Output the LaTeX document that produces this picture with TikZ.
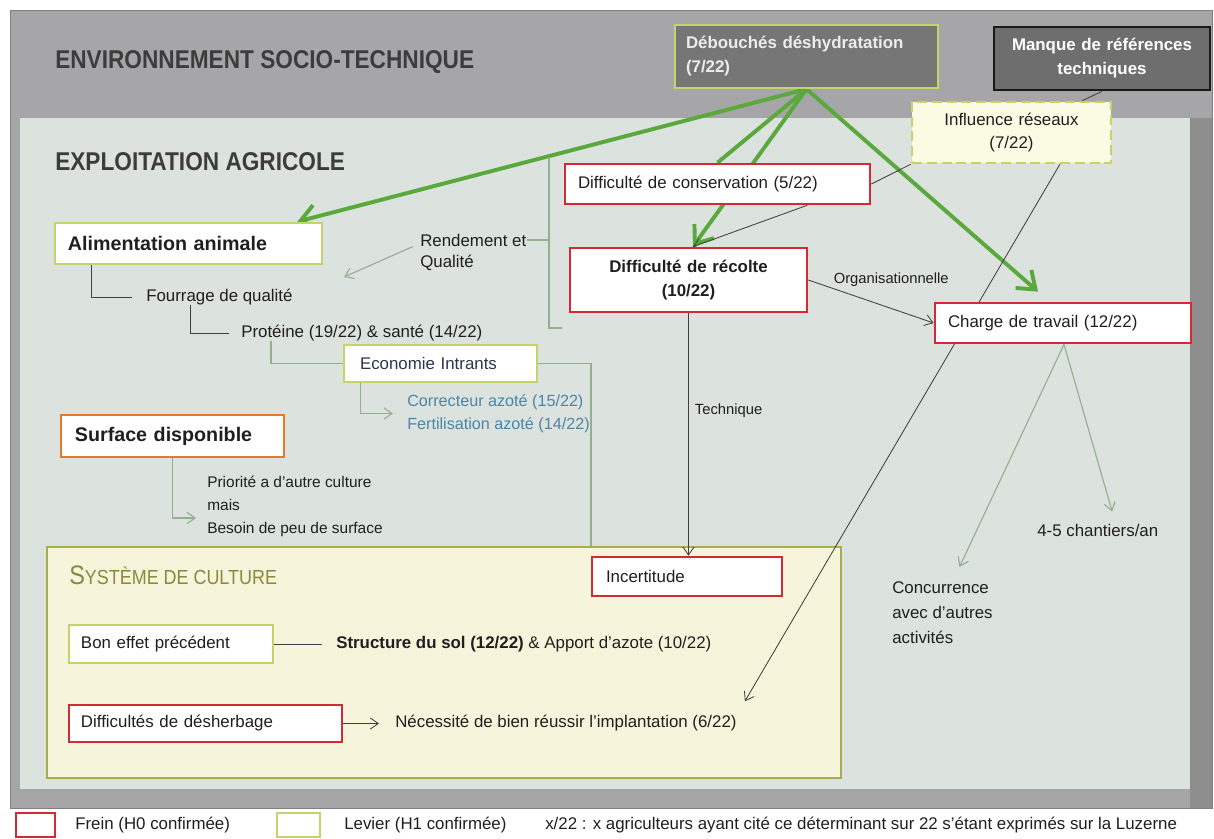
\documentclass[tikz,border=0pt]{standalone}
\usepackage{fontspec}
\setmainfont{Liberation Sans}
\newfontfamily\narrowfont[FakeStretch=0.88]{Liberation Sans}
\usetikzlibrary{arrows.meta,positioning,backgrounds}
\definecolor{framegray}{HTML}{A6A6A8}
\definecolor{shadegray}{HTML}{8E8E8E}
\definecolor{innerbg}{HTML}{DCE3DF}
\definecolor{sysbg}{HTML}{F6F5DC}
\definecolor{sysline}{HTML}{A9AE4C}
\definecolor{freinred}{HTML}{D42A35}
\definecolor{levierline}{HTML}{C5D36A}
\definecolor{orangeline}{HTML}{E8782E}
\definecolor{leaf}{HTML}{5BA83C}
\definecolor{paleleaf}{HTML}{93B08E}
\definecolor{debfill}{HTML}{767676}
\definecolor{manquefill}{HTML}{6E6E6E}
\definecolor{inflfill}{HTML}{FBFBE4}
\definecolor{headgray}{HTML}{3C3C3C}
\definecolor{olivetxt}{HTML}{8A8A3C}
\definecolor{azoteblue}{HTML}{4A86A6}
\definecolor{ecotxt}{HTML}{2C3550}
\tikzset{
  cadre/.style={draw,rectangle,fill=white,inner ysep=0pt,align=left,text=black!88,font=\fontsize{12}{17}\selectfont},
  frein/.style={cadre,draw=freinred,line width=1.9pt},
  levier/.style={cadre,draw=levierline,line width=1.9pt},
  txt/.style={inner sep=0pt,align=left,text=black!88,font=\fontsize{12}{16.4}\selectfont},
  lbl/.style={txt,font=\fontsize{10.5}{13}\selectfont},
  titre/.style={anchor=west,inner sep=0pt,text=headgray,font=\narrowfont\bfseries\fontsize{18.3}{22}\selectfont},
  darkline/.style={draw=black!75,line width=0.6pt},
  paleline/.style={draw=paleleaf,line width=0.8pt},
  bigarrow/.style={draw=leaf,line width=2.8pt,-{Straight Barb[length=4mm,width=6mm]}}
}

\begin{document}
\begin{tikzpicture}[x=0.25mm,y=-0.25mm,>={Straight Barb[length=2mm,width=2.8mm]}]
\useasboundingbox (0,0) rectangle (1214,838);
% titres
\node (envt) [titre] at (55,62) {ENVIRONNEMENT SOCIO-TECHNIQUE};
\node (expt) [titre] at (55,162) {EXPLOITATION AGRICOLE};
\node (systitle) [anchor=west,inner sep=0pt,text=olivetxt,font=\narrowfont] at (69,575) {\fontsize{19}{20}\selectfont S\fontsize{14.5}{20}\selectfont YSTÈME DE CULTURE};
%
\node (deb) [cadre,fill=debfill,draw=levierline,line width=1.5pt,text=white!93!black,font=\bfseries\fontsize{12}{17}\selectfont,inner xsep=2.75mm,text width=60.25mm,minimum height=15.75mm] at (806.5,56.5) {Débouchés déshydratation\\(7/22)};
\node (manque) [cadre,fill=manquefill,draw=black!90,line width=2pt,text=white,font=\bfseries\fontsize{12}{17}\selectfont,align=center,inner xsep=2mm,text width=50mm,minimum height=15.75mm] at (1102,58.5) {Manque de références\\techniques};
\node (infl) [cadre,fill=inflfill,draw=levierline,line width=1.8pt,dash pattern=on 2.5mm off 1.2mm,align=center,inner xsep=2mm,text width=45.75mm,minimum height=15.25mm] at (1011.5,132.5) {Influence réseaux\\(7/22)};
\node (cons) [frein,inner xsep=3.25mm,text width=69.75mm,minimum height=10mm] at (717.5,184) {Difficulté de conservation (5/22)};
\node (rec) [frein,font=\bfseries\fontsize{12}{17}\selectfont,align=center,inner xsep=2mm,text width=55.25mm,minimum height=16mm] at (688.5,280) {Difficulté de récolte\\(10/22)};
\node (charge) [frein,inner xsep=3.25mm,text width=57.5mm,minimum height=10mm] at (1063,323) {Charge de travail (12/22)};
\node (inc) [frein,inner xsep=3.5mm,text width=40.5mm,minimum height=9.75mm] at (687,576.5) {Incertitude};
\node (alim) [levier,font=\bfseries\fontsize{14}{17}\selectfont,inner xsep=3.25mm,text width=60.25mm,minimum height=10.25mm] at (188.5,243.5) {Alimentation animale};
\node (eco) [levier,text=ecotxt,inner xsep=4mm,text width=40.25mm,minimum height=9.25mm] at (440.5,363.5) {Economie Intrants};
\node (surf) [cadre,draw=orangeline,line width=1.8pt,font=\bfseries\fontsize{14}{17}\selectfont,inner xsep=3.5mm,text width=48.75mm,minimum height=10.5mm] at (172.5,436) {Surface disponible};
\node (bon) [levier,inner xsep=3mm,text width=45mm,minimum height=9.5mm] at (171,644) {Bon effet précédent};
\node (desh) [frein,inner xsep=3mm,text width=62.25mm,minimum height=9.25mm] at (205.5,723.5) {Difficultés de désherbage};
%
\node (rend) [txt,anchor=west] at (420,240) {Rendement et};
\node (qual) [txt,anchor=west] at (420,263) {Qualité};
\node (four) [txt,anchor=west,inner xsep=3.5mm] at (132,297) {Fourrage de qualité};
\node (prot) [txt,anchor=west,inner xsep=3mm] at (229,333) {Protéine (19/22) \& santé (14/22)};
\node (corr) [txt,anchor=west,inner xsep=3.5mm,text=azoteblue,font=\fontsize{11.5}{16.4}\selectfont] at (393,413.5) {Correcteur azoté (15/22)\\Fertilisation azoté (14/22)};
\node (prio) [txt,anchor=west,inner xsep=2.75mm,font=\fontsize{11}{16.4}\selectfont] at (196,506) {Priorité a d'autre culture\\mais\\Besoin de peu de surface};
\node (stru) [txt,anchor=west,inner xsep=3.5mm] at (322,644) {\textbf{Structure du sol (12/22)} \& Apport d'azote (10/22)};
\node (nec) [txt,anchor=west,inner xsep=4mm] at (379,723.5) {Nécessité de bien réussir l'implantation (6/22)};
\node (conc) [txt,anchor=north west,font=\fontsize{12}{17.8}\selectfont] at (892,581) {Concurrence\\avec d'autres\\activités};
\node (chant) [txt,anchor=west] at (1037,530) {4-5 chantiers/an};
\coordinate (rendtip) at (344,277);
\coordinate (brtop) at (549,157);
\coordinate (brbot) at (549,328);
% legende
\node (lgfrein) [frein,minimum width=9.75mm,minimum height=6mm] at (35.5,825) {};
\node (lgfreintxt) [txt,anchor=west] at (75,825) {Frein (H0 confirmée)};
\node (lglevier) [levier,minimum width=10.75mm,minimum height=6mm] at (298.5,825) {};
\node (lglevtxt) [txt,anchor=west] at (344,825) {Levier (H1 confirmée)};
\node (lgnote) [txt,anchor=west] at (545,825) {x/22 : x agriculteurs ayant cité ce déterminant sur 22 s'étant exprimés sur la Luzerne};

\begin{pgfonlayer}{background}
\fill[framegray,draw=black!50] (10,10) rectangle (1212,808);
\fill[shadegray] (1190,118) rectangle (1212,808);
\fill[innerbg] (20,118) rectangle (1190,789);
\node (syst) [draw=sysline,line width=1.5pt,fill=sysbg,minimum width=198.5mm,minimum height=57.75mm] at (444,662.5) {};
% debouches
\draw[bigarrow] (deb.south) -- ([xshift=-6.5mm]alim.north east);
\draw[bigarrow,-] (deb.south) -- (cons.north);
\draw[bigarrow] (deb.south) -- ([xshift=1.1mm]rec.north);
\draw[bigarrow] (deb.south) -- ([xshift=-6.25mm,yshift=2.5mm]charge.north);
% reseaux
\draw[darkline] (cons.east) -- (infl.south west);
\draw[darkline] ([xshift=17.6mm]infl.north) -- (manque.south);
\draw[darkline,->] ([xshift=12.1mm]infl.south) -- ([xshift=-2mm,yshift=3.5mm]nec.north east);
% recolte
\draw[darkline,->] ([xshift=22.4mm]cons.south) -- ([xshift=1.1mm]rec.north);
\draw[darkline,->] (rec.east) -- node[lbl,pos=0.2,above right=0.5mm and 0mm] {Organisationnelle} (charge.west);
\draw[darkline,->] (rec.south) -- node[lbl,pos=0.4,right=1.5mm] {Technique} (rec.south |- inc.north);
\draw[paleline,->] ([xshift=0.25mm]charge.south) -- ([xshift=4.25mm,yshift=3.5mm]conc.north);
\draw[paleline,->] ([xshift=0.25mm]charge.south) -- ([xshift=3.6mm,yshift=3mm]chant.north);
% rendement
\draw[paleline] (brtop) -- (brbot) -- ++(13,0);
\draw[paleline] (rend.east) -- (rend.east -| brtop);
\draw[paleline,->] ([xshift=-1.75mm]rend.south west) -- (rendtip);
% alimentation
\draw[darkline] ([xshift=9.5mm]alim.south west) |- (four.west);
\draw[darkline] ([xshift=14.5mm]four.south west) |- (prot.west);
\draw[paleline] ([xshift=10.5mm]prot.south west) |- (eco.west);
\draw[paleline,->] ([xshift=4.5mm]eco.south west) |- (corr.west);
\draw[paleline] (eco.east) -| ([xshift=36.75mm]syst.north);
\draw[paleline,->] (surf.south) |- ([yshift=-3mm]prio.west);
% systeme de culture
\draw[darkline] (bon.east) -- (stru.west);
\draw[darkline,->] (desh.east) -- (nec.west);
\end{pgfonlayer}
\end{tikzpicture}
\end{document}
